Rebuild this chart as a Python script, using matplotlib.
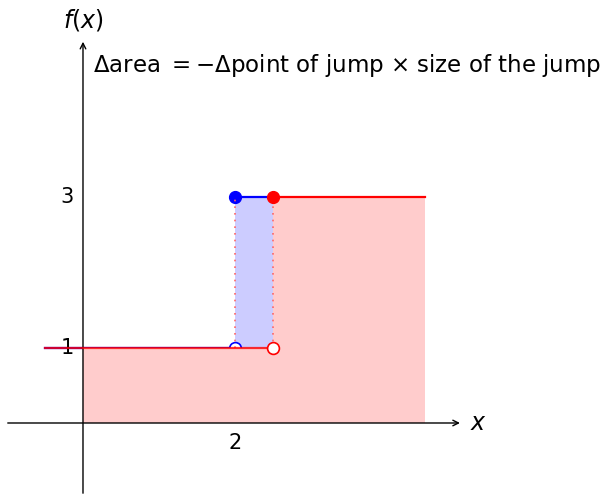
import matplotlib.pyplot as plt

plt.rcParams['mathtext.fontset'] = 'dejavusans'

# step function data
x_left = -0.5
x_right = 4.5
jump_blue = 2.0
jump_red = 2.5
low = 1
high = 3
tick_x = [2]
tick_y = [1, 3]

fig = plt.figure(figsize=(6.08, 4.96), dpi=100)
ax = fig.add_axes([0, 0, 1, 1])
ax.set_xlim(-1.092, 6.908)
ax.set_ylim(-0.967, 5.603)
ax.axis('off')

# blue area between the two jump points
ax.fill_between([jump_blue, jump_red], low, high, color='#ccccff', lw=0, zorder=1)

# blue function
ax.plot([x_left, jump_blue], [low, low], color='blue', lw=1.6, zorder=2)
ax.plot([jump_blue, jump_red], [high, high], color='blue', lw=1.6, zorder=2)
ax.plot(jump_blue, low, 'o', mfc='white', mec='blue', ms=8.5, mew=1.2, zorder=2)
ax.plot(jump_blue, high, 'o', color='blue', ms=8.5, zorder=3)

# red area under the function
ax.fill_between([0, jump_red], 0, low, color='#ffcccc', lw=0, zorder=4)
ax.fill_between([jump_red, x_right], 0, high, color='#ffcccc', lw=0, zorder=4)

# dotted lines at the jumps
ax.plot([jump_blue, jump_blue], [low, high], color='#ff6666', lw=1.2,
        ls=(0, (1, 3)), zorder=5)
ax.plot([jump_red, jump_red], [low, high], color='#ff6666', lw=1.2,
        ls=(0, (1, 3)), zorder=5)

# axes with arrows
ax.annotate('', xy=(4.96, 0), xytext=(-0.99, 0),
            arrowprops=dict(arrowstyle='->', color='black', lw=1, shrinkA=0, shrinkB=0), zorder=6)
ax.annotate('', xy=(0, 5.05), xytext=(0, -0.93),
            arrowprops=dict(arrowstyle='->', color='black', lw=1, shrinkA=0, shrinkB=0), zorder=6)

# red function
ax.plot([x_left, jump_red], [low, low], color='red', lw=1.6, alpha=0.8, zorder=7)
ax.plot([jump_red, x_right], [high, high], color='red', lw=1.6, zorder=7)
ax.plot(jump_red, low, 'o', mfc='white', mec='red', ms=8.5, mew=1.2, zorder=8)
ax.plot(jump_red, high, 'o', color='red', ms=8.5, zorder=8)

# tick labels
for t in tick_x:
    ax.text(t, -0.13, str(t), ha='center', va='top', fontsize=15)
for t in tick_y:
    ax.text(-0.12, t, str(t), ha='right', va='center', fontsize=15)

ax.text(5.2, 0, r'$x$', ha='center', va='center', fontsize=17)
ax.text(0, 5.34, r'$f(x)$', ha='center', va='center', fontsize=17)
ax.text(0.13, 4.74, r'$\Delta$area $= -\Delta$point of jump $\times$ size of the jump',
        ha='left', va='center', fontsize=16.5)

fig.savefig('out.png', dpi=100)
